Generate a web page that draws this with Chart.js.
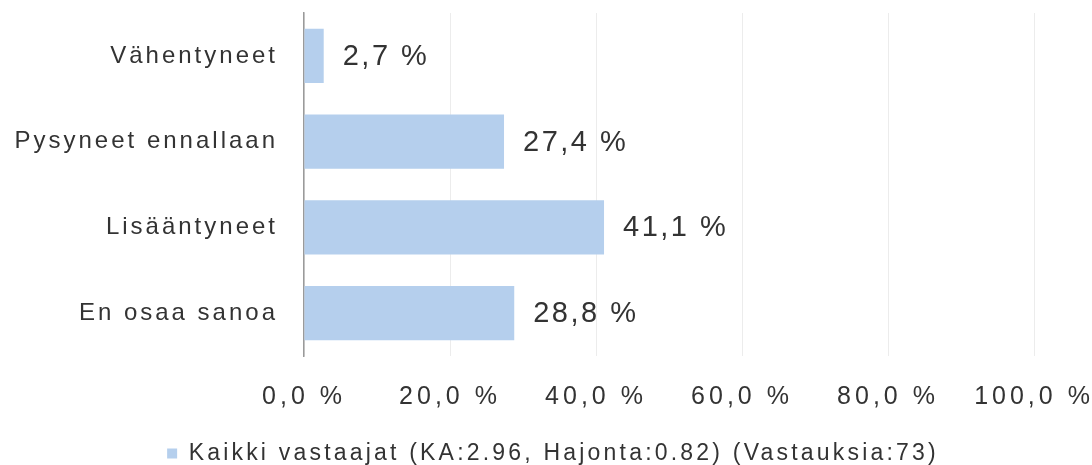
<!DOCTYPE html>
<html>
<head>
<meta charset="utf-8">
<script src="https://cdn.jsdelivr.net/npm/chart.js@4/dist/chart.umd.min.js"></script>
<style>
    html, body { margin: 0; padding: 0; background: #fff; }
    #wrap { width: 1092px; height: 465px; position: relative; }
</style>
</head>
<body>
<div id="wrap"><canvas id="answersChart"></canvas></div>
<script>
    // data
    const categories = ['Vähentyneet', 'Pysyneet ennallaan', 'Lisääntyneet', 'En osaa sanoa'];
    const shares = [2.7, 27.4, 41.1, 28.8];
    const seriesLabel = 'Kaikki vastaajat (KA:2.96, Hajonta:0.82) (Vastauksia:73)';
    const tickValues = [0, 20, 40, 60, 80, 100];

    const textColor = '#333333';
    const barColor = '#b5cfed';
    const fontFamily = '"Liberation Sans", Arial, sans-serif';

    function pct(v) {
        return v.toFixed(1).replace('.', ',') + ' %';
    }

    // wrap a draw method so its text gets its own letter spacing (and optional shift)
    function withSpacing(obj, method, sp, dx = 0, dy = 0) {
        if (!obj || obj['_sp_' + method]) return;
        const orig = obj[method];
        obj[method] = function (...args) {
            const c = this.ctx;
            c.save();
            c.letterSpacing = sp;
            c.translate(dx, dy);
            orig.apply(this, args);
            c.restore();
        };
        obj['_sp_' + method] = true;
    }

    // canvas letterSpacing gets reset on resize, so set it before layout and drawing
    const legendSpacing = '3.2px';
    const spacingPlugin = {
        id: 'spacing',
        beforeUpdate(chart) { chart.ctx.letterSpacing = legendSpacing; },
        afterUpdate(chart) {
            withSpacing(chart.scales.x, 'drawLabels', '4px');
            withSpacing(chart.scales.y, 'drawLabels', '3px');
            // legend in the reference sits a bit right of the canvas centre and lower
            withSpacing(chart.legend, 'draw', legendSpacing, 36, 10);
        },
        beforeDraw(chart) { chart.ctx.letterSpacing = legendSpacing; }
    };

    // value labels at the end of each bar
    const valueLabels = {
        id: 'valueLabels',
        afterDatasetsDraw(chart) {
            const ctx = chart.ctx;
            const meta = chart.getDatasetMeta(0);
            ctx.save();
            ctx.letterSpacing = '2.5px';
            ctx.font = '29px ' + fontFamily;
            ctx.fillStyle = textColor;
            ctx.textAlign = 'left';
            ctx.textBaseline = 'middle';
            meta.data.forEach((bar, i) => {
                ctx.fillText(pct(shares[i]), bar.x + 19, bar.y + 1);
            });
            ctx.restore();
        }
    };

    const ctx = document.getElementById('answersChart').getContext('2d');
    const answersChart = new Chart(ctx, {
        type: 'bar',
        data: {
            labels: categories,
            datasets: [{
                label: seriesLabel,
                data: shares,
                backgroundColor: barColor,
                borderWidth: 0,
                categoryPercentage: 0.63,
                barPercentage: 1.0
            }]
        },
        options: {
            indexAxis: 'y',
            responsive: true,
            maintainAspectRatio: false,
            animation: false,
            layout: {
                padding: { top: 13, right: 58, bottom: 0, left: 0 }
            },
            scales: {
                x: {
                    min: 0,
                    max: 100,
                    afterBuildTicks: axis => {
                        axis.ticks = tickValues.map(v => ({ value: v }));
                    },
                    afterFit: axis => {
                        axis.paddingLeft = 0;
                        axis.paddingRight = 0;
                        axis.height = 72;
                    },
                    grid: { color: '#ececec', lineWidth: 1, drawTicks: false },
                    border: { display: false },
                    ticks: {
                        color: textColor,
                        padding: 26,
                        maxRotation: 0,
                        font: { family: fontFamily, size: 25 },
                        callback: v => pct(v)
                    }
                },
                y: {
                    afterFit: axis => {
                        axis.paddingTop = 0;
                        axis.paddingBottom = 0;
                        axis.width = 304;
                    },
                    grid: { display: false, drawTicks: false },
                    border: { display: true, color: '#9a9a9a', width: 1.5 },
                    ticks: {
                        color: textColor,
                        padding: 26,
                        font: { family: fontFamily, size: 24 }
                    }
                }
            },
            plugins: {
                legend: {
                    position: 'bottom',
                    labels: {
                        color: textColor,
                        boxWidth: 10,
                        boxHeight: 10,
                        padding: 4,
                        font: { family: fontFamily, size: 23 }
                    }
                },
                tooltip: { enabled: false }
            }
        },
        plugins: [spacingPlugin, valueLabels]
    });
</script>
</body>
</html>
